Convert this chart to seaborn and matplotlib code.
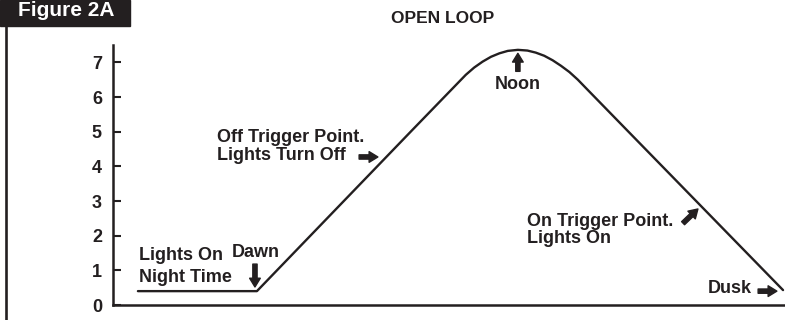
import numpy as np
import pandas as pd
import matplotlib
matplotlib.use('Agg')
import matplotlib.pyplot as plt
from matplotlib.patches import Rectangle
from matplotlib.lines import Line2D
import seaborn as sns

# Light level over a day (x in hours, arbitrary)
hours = [0.89, 5.14, 10.68, 12.6, 12.9, 13.2, 13.5, 13.8, 14.1, 14.46, 14.8, 15.1,
         15.4, 15.7, 16.0, 16.3, 16.6, 16.9, 18.36, 23.93]
level = [0.40, 0.40, 5.04, 6.64, 6.85, 7.02, 7.16, 7.26, 7.33, 7.36, 7.34, 7.28,
         7.19, 7.06, 6.90, 6.72, 6.50, 6.25, 5.04, 0.43]
yticks = [0, 1, 2, 3, 4, 5, 6, 7]

INK = '#231f20'

sns.set_style('ticks')
plt.rcParams['font.family'] = ['Liberation Sans', 'DejaVu Sans']
plt.rcParams['font.weight'] = 'bold'

df = pd.DataFrame({'hour': hours, 'level': level})

fig = plt.figure(figsize=(7.85, 3.2), dpi=100)
ax = fig.add_axes([113/785, 15/320, 672/785, 260/320])

sns.lineplot(data=df, x='hour', y='level', ax=ax, color=INK, linewidth=1.7)

ax.set_xlim(0, 24)
ax.set_ylim(0, 7.5)
ax.set_xticks([])
ax.set_yticks(yticks)
ax.set_yticklabels([str(t) for t in yticks], fontsize=13, fontweight='bold', color=INK)
ax.tick_params(axis='y', direction='in', length=6, width=1.5, pad=8, color=INK)
ax.set_xlabel('')
ax.set_ylabel('')
for s in ['top', 'right']:
    ax.spines[s].set_visible(False)
for s in ['left', 'bottom']:
    ax.spines[s].set_linewidth(1.8)
    ax.spines[s].set_color(INK)

fs = 13
kw = dict(fontsize=fs, fontweight='bold', color=INK, va='baseline', ha='left')
ax.text(0.93, 1.30, 'Lights On', **kw)
ax.text(0.93, 0.66, 'Night Time', **kw)
ax.text(4.25, 1.38, 'Dawn', **kw)
ax.text(3.71, 4.70, 'Off Trigger Point.', **kw)
ax.text(3.71, 4.18, 'Lights Turn Off', **kw)
ax.text(14.46, 6.22, 'Noon', **{**kw, 'ha': 'center'})
ax.text(14.79, 2.28, 'On Trigger Point.', **kw)
ax.text(14.79, 1.79, 'Lights On', **kw)
ax.text(21.25, 0.35, 'Dusk', **kw)

arrow = dict(arrowstyle='simple,head_length=0.45,head_width=0.55,tail_width=0.22',
             color=INK, shrinkA=0, shrinkB=0, mutation_scale=14)
ax.annotate('', xy=(5.07, 0.52), xytext=(5.07, 1.18), arrowprops=arrow)
ax.annotate('', xy=(9.46, 4.27), xytext=(8.79, 4.27), arrowprops=arrow)
ax.annotate('', xy=(14.46, 7.26), xytext=(14.46, 6.74), arrowprops=arrow)
ax.annotate('', xy=(20.89, 2.77), xytext=(20.36, 2.36), arrowprops=arrow)
ax.annotate('', xy=(23.71, 0.40), xytext=(23.04, 0.40), arrowprops=arrow)

# figure frame: header tab and left border
fig.patches.append(Rectangle((0, 1 - 25.7/320), 130/785, 25.7/320,
                             transform=fig.transFigure, color=INK, zorder=0))
fig.lines.append(Line2D([5.5/785, 5.5/785], [0, 1 - 25/320],
                        transform=fig.transFigure, color=INK, linewidth=1.9))
fig.text(18/785, 1 - 16/320, 'Figure 2A', fontsize=15, fontweight='bold',
         color='white', va='baseline', ha='left')
fig.text(443/785, 1 - 23/320, 'OPEN LOOP', fontsize=12.5, fontweight='bold',
         color=INK, va='baseline', ha='center')

fig.savefig('out.png', dpi=100)
